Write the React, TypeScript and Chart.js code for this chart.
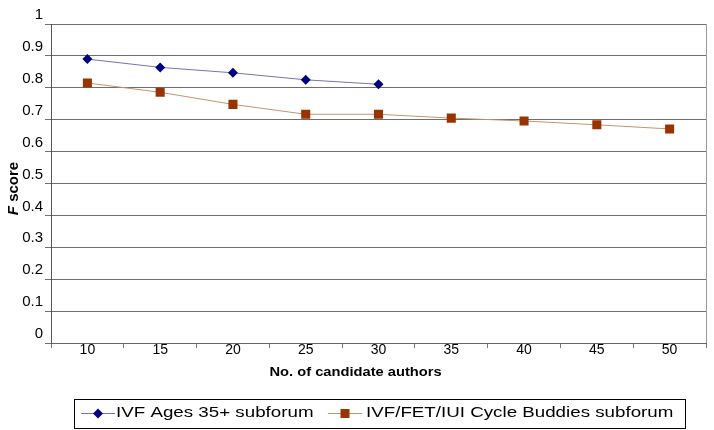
import React, { useEffect, useRef } from "react";
import { Chart, registerables } from "chart.js";

Chart.register(...registerables);

const categories = ["10", "15", "20", "25", "30", "35", "40", "45", "50"];
const seriesAges35 = [0.89, 0.864, 0.847, 0.825, 0.811, null, null, null, null];
const seriesCycleBuddies = [0.815, 0.786, 0.748, 0.717, 0.717, 0.705, 0.696, 0.684, 0.671];
const seriesNames = ["IVF Ages 35+ subforum", "IVF/FET/IUI Cycle Buddies subforum"];
const xTitle = "No. of candidate authors";
const yTitleItalic = "F";
const yTitleRest = " score";

const FONT = "'Liberation Sans', Arial, sans-serif";
const C1_MARK = "#000080";
const C1_LINE = "#7474b4";
const C2_MARK = "#993300";
const C2_LINE = "#c9926c";

function drawStretched(ctx: CanvasRenderingContext2D, text: string, x: number, y: number, sx: number) {
  ctx.save();
  ctx.translate(x, y);
  ctx.scale(sx, 1);
  ctx.fillText(text, 0, 0);
  ctx.restore();
}

const decorPlugin = {
  id: "decor",
  afterDraw(chart: any) {
    const ctx: CanvasRenderingContext2D = chart.ctx;
    const a = chart.chartArea;
    ctx.save();
    // right border
    ctx.strokeStyle = "#9a9a9a";
    ctx.lineWidth = 1;
    ctx.beginPath();
    ctx.moveTo(Math.round(a.right) + 0.5, a.top);
    ctx.lineTo(Math.round(a.right) + 0.5, a.bottom);
    ctx.stroke();

    // x title
    ctx.fillStyle = "#000";
    ctx.font = `bold 13px ${FONT}`;
    ctx.textBaseline = "middle";
    ctx.textAlign = "left";
    const sxT = 1.13;
    const wT = ctx.measureText(xTitle).width * sxT;
    const cx = a.left + a.width * 0.465;
    drawStretched(ctx, xTitle, cx - wT / 2, 372, sxT);

    // y title (rotated)
    ctx.save();
    ctx.translate(14, (a.top + a.bottom) / 2 + 5);
    ctx.rotate(-Math.PI / 2);
    ctx.font = `italic bold 15px ${FONT}`;
    const wF = ctx.measureText(yTitleItalic).width;
    ctx.font = `bold 15px ${FONT}`;
    const wR = ctx.measureText(yTitleRest).width;
    const start = -(wF + wR) / 2;
    ctx.font = `italic bold 15px ${FONT}`;
    ctx.fillText(yTitleItalic, start, 0);
    ctx.font = `bold 15px ${FONT}`;
    ctx.fillText(yTitleRest, start + wF, 0);
    ctx.restore();

    // legend
    ctx.strokeStyle = "#000";
    ctx.lineWidth = 1;
    ctx.strokeRect(74.5, 399.5, 611, 29);
    const ly = 413.5;
    // item 1
    ctx.strokeStyle = C1_LINE;
    ctx.beginPath();
    ctx.moveTo(81, ly);
    ctx.lineTo(115, ly);
    ctx.stroke();
    ctx.fillStyle = C1_MARK;
    ctx.beginPath();
    ctx.moveTo(98 - 5, ly);
    ctx.lineTo(98, ly - 5);
    ctx.lineTo(98 + 5, ly);
    ctx.lineTo(98, ly + 5);
    ctx.closePath();
    ctx.fill();
    // item 2
    ctx.strokeStyle = C2_LINE;
    ctx.beginPath();
    ctx.moveTo(328, ly);
    ctx.lineTo(362, ly);
    ctx.stroke();
    ctx.fillStyle = C2_MARK;
    ctx.fillRect(345 - 4.5, ly - 4.5, 9, 9);

    ctx.fillStyle = "#000";
    ctx.font = `15px ${FONT}`;
    ctx.textBaseline = "middle";
    drawStretched(ctx, seriesNames[0], 116, 413, 1.25);
    drawStretched(ctx, seriesNames[1], 366, 413, 1.25);
    ctx.restore();
  },
};

export default function App() {
  const ref = useRef<HTMLCanvasElement | null>(null);
  useEffect(() => {
    if (!ref.current) return;
    const chart = new Chart(ref.current, {
      type: "line",
      data: {
        labels: categories,
        datasets: [
          {
            label: seriesNames[0],
            data: seriesAges35,
            borderColor: C1_LINE,
            borderWidth: 1,
            backgroundColor: C1_MARK,
            pointBackgroundColor: C1_MARK,
            pointBorderColor: C1_MARK,
            pointStyle: "rectRot",
            pointRadius: 5,
            pointBorderWidth: 0,
            spanGaps: false,
          },
          {
            label: seriesNames[1],
            data: seriesCycleBuddies,
            borderColor: C2_LINE,
            borderWidth: 1,
            backgroundColor: C2_MARK,
            pointBackgroundColor: C2_MARK,
            pointBorderColor: C2_MARK,
            pointStyle: "rect",
            pointRadius: 6.4,
            pointBorderWidth: 0,
          },
        ],
      },
      options: {
        animation: false,
        responsive: true,
        maintainAspectRatio: false,
        layout: { padding: { top: 24, right: 8, left: 0, bottom: 0 } },
        plugins: { legend: { display: false }, tooltip: { enabled: false } },
        scales: {
          x: {
            type: "category",
            offset: true,
            grid: { offset: true, drawOnChartArea: false, drawTicks: true, tickLength: 5, color: "#777" },
            border: { color: "#666" },
            ticks: { color: "#000", font: { family: FONT, size: 14 }, padding: -6, maxRotation: 0 },
            afterFit: (s: any) => {
              s.height = 87;
            },
          },
          y: {
            min: 0,
            max: 1,
            ticks: {
              stepSize: 0.1,
              color: "#000",
              font: { family: FONT, size: 15 },
              padding: 2,
              labelOffset: -9,
              callback: (v: any) => String(Math.round(Number(v) * 10) / 10),
            },
            grid: { color: "#6e6e6e", tickLength: 6, drawTicks: true },
            border: { color: "#555" },
            afterFit: (s: any) => {
              s.width = 51;
            },
          },
        },
      },
      plugins: [decorPlugin],
    });
    return () => chart.destroy();
  }, []);
  return (
    <div style={{ position: "absolute", left: 0, top: 0, width: 714, height: 430, background: "#fff" }}>
      <canvas ref={ref} />
    </div>
  );
}
